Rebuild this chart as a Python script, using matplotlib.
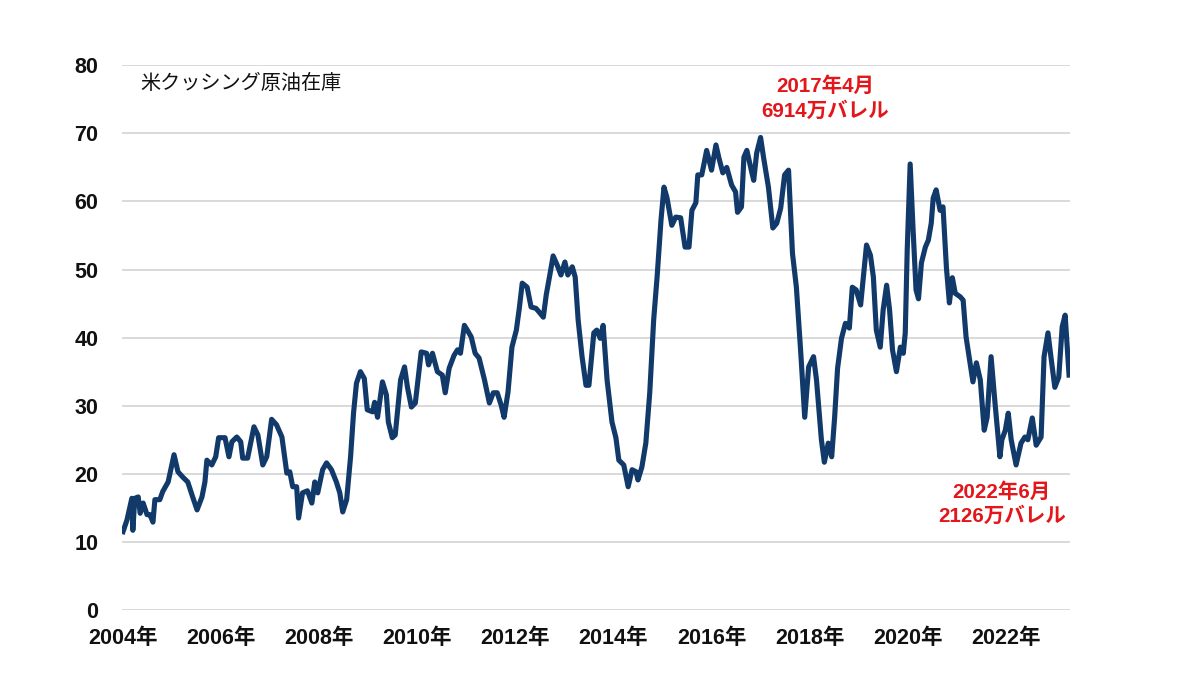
import numpy as np
import matplotlib.pyplot as plt

# 週次の在庫推移 (百万バレル), 図から読み取り
years = [
    2004.00, 2004.08, 2004.18, 2004.20, 2004.24, 2004.31, 2004.35, 2004.41, 2004.49, 2004.55, 2004.61, 2004.65, 2004.75, 2004.81, 2004.92,
    2005.04, 2005.12, 2005.22, 2005.32, 2005.42, 2005.51, 2005.61, 2005.67, 2005.71, 2005.81, 2005.89, 2005.95,
    2006.08, 2006.16, 2006.22, 2006.32, 2006.40, 2006.44, 2006.54, 2006.67, 2006.75, 2006.85, 2006.93,
    2007.03, 2007.13, 2007.24, 2007.34, 2007.40, 2007.46, 2007.54, 2007.58, 2007.66, 2007.76, 2007.85, 2007.91, 2007.97,
    2008.07, 2008.15, 2008.25, 2008.35, 2008.42, 2008.48, 2008.56, 2008.64, 2008.70, 2008.76, 2008.84, 2008.92, 2008.98,
    2009.09, 2009.13, 2009.19, 2009.29, 2009.37, 2009.41, 2009.49, 2009.55, 2009.66, 2009.74, 2009.80, 2009.88, 2009.96,
    2010.08, 2010.19, 2010.23, 2010.31, 2010.41, 2010.51, 2010.57, 2010.65, 2010.75, 2010.82, 2010.88, 2010.96,
    2011.02, 2011.10, 2011.18, 2011.26, 2011.37, 2011.47, 2011.55, 2011.63, 2011.71, 2011.77, 2011.85, 2011.93,
    2012.02, 2012.08, 2012.14, 2012.24, 2012.32, 2012.42, 2012.48, 2012.57, 2012.63, 2012.71, 2012.77, 2012.85, 2012.93,
    2013.01, 2013.07, 2013.16, 2013.22, 2013.28, 2013.36, 2013.44, 2013.50, 2013.60, 2013.66, 2013.73, 2013.79, 2013.87, 2013.97,
    2014.05, 2014.11, 2014.21, 2014.30, 2014.38, 2014.46, 2014.50, 2014.58, 2014.66, 2014.74, 2014.82, 2014.89, 2014.97,
    2015.03, 2015.09, 2015.19, 2015.27, 2015.37, 2015.46, 2015.54, 2015.60, 2015.68, 2015.72, 2015.80, 2015.84, 2015.90,
    2016.00, 2016.09, 2016.15, 2016.23, 2016.31, 2016.41, 2016.49, 2016.53, 2016.61, 2016.66, 2016.72, 2016.82, 2016.86, 2016.92,
    2017.00, 2017.06, 2017.16, 2017.25, 2017.33, 2017.41, 2017.49, 2017.57, 2017.65, 2017.73, 2017.82, 2017.90, 2017.98,
    2018.08, 2018.14, 2018.24, 2018.30, 2018.38, 2018.45, 2018.51, 2018.57, 2018.65, 2018.73, 2018.81, 2018.87, 2018.95,
    2019.04, 2019.10, 2019.16, 2019.24, 2019.30, 2019.36, 2019.44, 2019.50, 2019.57, 2019.63, 2019.69, 2019.77, 2019.85, 2019.91, 2019.95, 2019.99,
    2020.05, 2020.11, 2020.17, 2020.22, 2020.28, 2020.36, 2020.42, 2020.48, 2020.52, 2020.58, 2020.66, 2020.72, 2020.79, 2020.85, 2020.91, 2020.97,
    2021.07, 2021.13, 2021.19, 2021.27, 2021.33, 2021.40, 2021.48, 2021.56, 2021.62, 2021.70, 2021.78, 2021.88, 2021.92, 2021.99,
    2022.05, 2022.11, 2022.21, 2022.31, 2022.39, 2022.45, 2022.54, 2022.62, 2022.72, 2022.78, 2022.86, 2022.92,
    2023.00, 2023.08, 2023.15, 2023.21, 2023.29,
]
stocks = [
    11.5, 13.2, 16.4, 11.7, 16.4, 16.6, 14.2, 15.7, 14.0, 14.0, 12.9, 16.2, 16.2, 17.4, 18.8,
    22.8, 20.3, 19.5, 18.8, 16.6, 14.7, 16.6, 18.8, 22.0, 21.3, 22.5, 25.3,
    25.3, 22.5, 24.7, 25.4, 24.7, 22.3, 22.3, 26.9, 25.7, 21.3, 22.5,
    28.0, 27.2, 25.4, 20.1, 20.3, 18.1, 18.1, 13.5, 17.2, 17.5, 15.7, 18.8, 17.2,
    20.6, 21.6, 20.6, 18.8, 17.2, 14.4, 16.2, 22.5, 28.9, 33.3, 35.0, 34.0, 29.4,
    29.1, 30.5, 28.3, 33.5, 31.6, 27.6, 25.3, 25.7, 33.8, 35.7, 32.7, 29.8, 30.4,
    37.9, 37.7, 36.0, 37.7, 35.0, 34.5, 31.9, 35.5, 37.4, 38.2, 37.7, 41.8,
    41.1, 40.1, 37.7, 37.0, 33.8, 30.4, 31.9, 31.9, 30.1, 28.3, 32.0, 38.6,
    41.1, 44.3, 48.0, 47.4, 44.5, 44.3, 43.8, 43.0, 46.3, 49.5, 52.0, 50.7, 49.2,
    51.1, 49.2, 50.4, 48.9, 42.6, 37.2, 33.0, 33.0, 40.7, 41.1, 39.9, 41.8, 33.8, 27.6,
    25.3, 22.0, 21.3, 18.1, 20.6, 20.3, 19.1, 21.0, 24.5, 31.9, 42.6, 48.9, 57.3,
    62.1, 60.6, 56.5, 57.7, 57.6, 53.3, 53.3, 58.7, 59.8, 63.9, 63.9, 65.3, 67.5,
    64.6, 68.3, 66.4, 64.2, 65.0, 62.4, 61.4, 58.4, 59.2, 66.5, 67.5, 64.3, 63.1, 67.1,
    69.4, 66.5, 62.1, 56.1, 56.8, 59.0, 63.9, 64.6, 52.4, 47.4, 37.7, 28.3, 35.7,
    37.2, 33.8, 25.0, 21.7, 24.5, 22.5, 28.3, 35.5, 39.9, 42.1, 41.4, 47.4, 47.0,
    44.8, 49.2, 53.6, 52.1, 48.9, 41.1, 38.6, 44.1, 47.7, 44.1, 38.2, 35.0, 38.6, 37.7, 40.7, 52.9,
    65.5, 55.8, 47.0, 45.7, 51.0, 53.3, 54.3, 56.8, 60.5, 61.7, 58.7, 59.2, 50.2, 45.1, 48.8, 46.5,
    46.0, 45.5, 40.1, 36.3, 33.5, 36.3, 33.8, 26.4, 28.3, 37.2, 30.4, 22.5, 25.0, 26.4,
    28.9, 25.0, 21.3, 24.5, 25.4, 25.0, 28.2, 24.2, 25.4, 37.2, 40.7, 37.2,
    32.7, 34.2, 41.6, 43.3, 34.5,
]

tick_years = [2004, 2006, 2008, 2010, 2012, 2014, 2016, 2018, 2020, 2022]
tick_labels = [f"{y}年" for y in tick_years]
y_ticks = [0, 10, 20, 30, 40, 50, 60, 70, 80]

title = "米クッシング原油在庫"
peak_note = "2017年4月\n6914万バレル"
low_note = "2022年6月\n2126万バレル"

fonts = ['Liberation Sans', 'Noto Sans CJK JP', 'DejaVu Sans']
plt.rcParams['font.family'] = fonts

fig = plt.figure(figsize=(12, 6.8), dpi=100)
ax = fig.add_axes([0.1017, 0.103, 0.79, 0.801])

ax.plot(years, stocks, color='#113a6a', lw=3.7, solid_joinstyle='round', zorder=3)

ax.set_xlim(2003.98, 2023.31)
ax.set_ylim(0, 80)
ax.set_yticks(y_ticks)
ax.set_xticks(tick_years)
ax.set_xticklabels(tick_labels)
ax.grid(axis='y', color='#d9d9d9', lw=1.4)
ax.set_axisbelow(True)
for s in ax.spines.values():
    s.set_visible(False)
ax.tick_params(length=0)
ax.tick_params(axis='y', pad=17)
ax.tick_params(axis='x', pad=13)
for lab in ax.get_xticklabels() + ax.get_yticklabels():
    lab.set_fontsize(15.5)
    lab.set_fontweight('bold')
    lab.set_color('#111111')

ax.text(0.019, 0.967, title, transform=ax.transAxes, ha='left', va='center',
        fontsize=14.5, family=['Noto Sans CJK JP', 'DejaVu Sans'], color='#111111')

ax.text(2018.32, 75.1, peak_note, ha='center', va='center', fontsize=14.8,
        fontweight='bold', color='#e3161b', linespacing=1.3)
ax.text(2021.92, 15.6, low_note, ha='center', va='center', fontsize=14.8,
        fontweight='bold', color='#e3161b', linespacing=1.3)

fig.savefig('out.png', dpi=100)
